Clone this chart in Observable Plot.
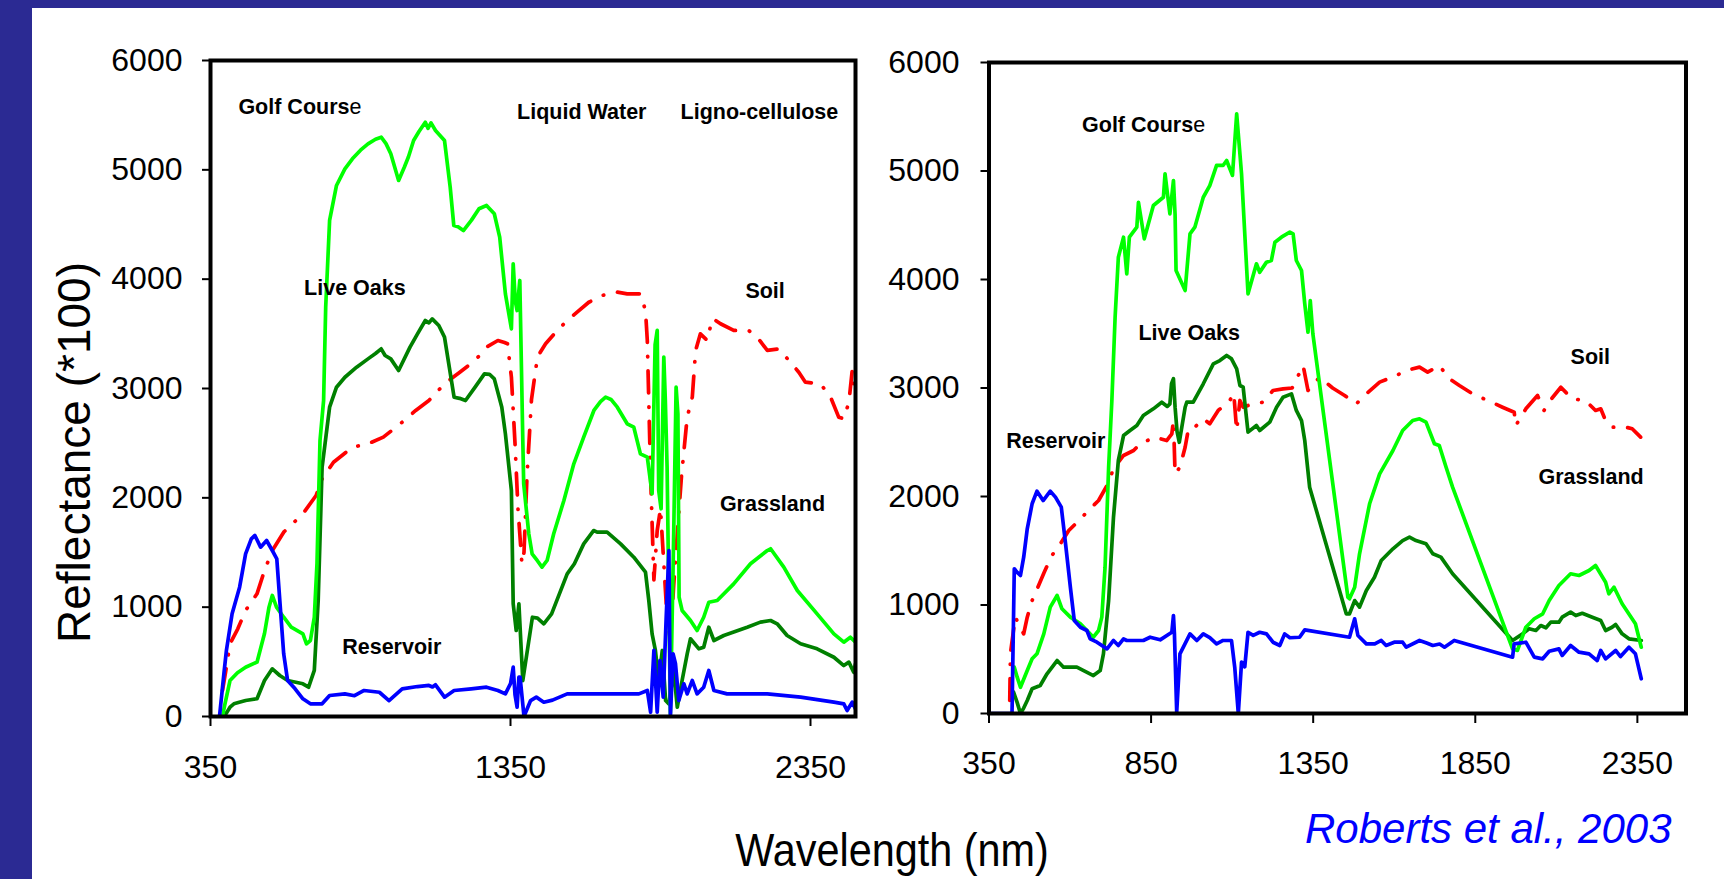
<!DOCTYPE html>
<html><head><meta charset="utf-8">
<script src="https://cdn.jsdelivr.net/npm/d3@7"></script>
<script src="https://cdn.jsdelivr.net/npm/@observablehq/plot@0.6"></script>
<style>
html,body{margin:0;padding:0;background:#fff;}
body{width:1724px;height:879px;position:relative;overflow:hidden;font-family:"Liberation Sans",Arial,sans-serif;color:#000;}
#bandTop{position:absolute;left:0;top:0;width:1724px;height:8px;background:#2B2A93;}
#bandLeft{position:absolute;left:0;top:0;width:32px;height:879px;background:#2B2A93;}
.chart{position:absolute;top:0;}
#overlay{position:absolute;left:0;top:0;}
</style>
</head><body>
<div id="bandTop"></div><div id="bandLeft"></div>
<div id="left" class="chart" style="left:0px"></div>
<div id="right" class="chart" style="left:870px"></div>
<svg id="overlay" width="1724" height="879"></svg>
<script>
// ---------- DATA (wavelength nm, reflectance *100) ----------
const yTicks = [0, 1000, 2000, 3000, 4000, 5000, 6000];
const xTicksLeft = [350, 1350, 2350];
const xTicksRight = [350, 850, 1350, 1850, 2350];

const leftGolfCourse = [[390,0],[397,100],[415,329],[440,400],[467,451],[505,497],[530,759],[545,1000],[556,1107],[570,1000],[594,908],[619,817],[658,756],[670,665],[683,695],[696,908],[705,1400],[715,2524],[727,2890],[734,3744],[747,4537],[770,4857],[798,5009],[823,5101],[850,5180],[875,5238],[900,5280],[919,5299],[935,5240],[951,5147],[977,4903],[996,5024],[1010,5120],[1027,5268],[1045,5350],[1066,5436],[1075,5380],[1085,5430],[1100,5360],[1130,5268],[1149,4841],[1161,4491],[1175,4480],[1193,4445],[1220,4540],[1245,4644],[1270,4674],[1296,4598],[1314,4384],[1333,3866],[1353,3546],[1359,4140],[1366,3800],[1372,3713],[1381,3988],[1391,2524],[1394,2128],[1411,1671],[1422,1488],[1439,1427],[1455,1366],[1472,1427],[1494,1671],[1528,1976],[1561,2311],[1594,2555],[1628,2799],[1650,2880],[1667,2921],[1685,2900],[1706,2829],[1739,2677],[1761,2646],[1783,2402],[1806,2372],[1822,2037],[1832,3400],[1839,3531],[1844,2067],[1852,1900],[1861,3287],[1866,2900],[1872,2280],[1883,24],[1894,1671],[1902,3012],[1908,2768],[1912,1091],[1922,970],[1950,878],[1972,787],[1994,908],[2011,1045],[2039,1061],[2094,1213],[2150,1397],[2206,1518],[2217,1534],[2261,1366],[2306,1152],[2372,939],[2428,756],[2461,680],[2483,725],[2500,680]];
const leftLiveOaks = [[395,0],[405,40],[415,85],[428,116],[467,146],[505,162],[530,329],[556,436],[581,375],[607,329],[658,299],[677,268],[696,421],[709,1061],[722,2280],[747,2829],[770,3012],[798,3103],[837,3195],[875,3271],[900,3320],[919,3363],[932,3302],[951,3271],[977,3165],[1015,3378],[1040,3500],[1066,3622],[1078,3600],[1089,3637],[1111,3576],[1130,3470],[1162,2920],[1180,2910],[1200,2890],[1232,3012],[1263,3134],[1280,3130],[1296,3088],[1321,2829],[1333,2585],[1353,2067],[1359,1031],[1369,787],[1378,1031],[1391,329],[1423,908],[1440,900],[1461,848],[1487,939],[1539,1305],[1563,1397],[1594,1579],[1627,1701],[1639,1686],[1672,1686],[1717,1579],[1761,1457],[1800,1320],[1811,1061],[1822,756],[1833,604],[1844,329],[1856,604],[1867,146],[1878,116],[1894,421],[1906,85],[1922,329],[1939,573],[1950,711],[1978,619],[1994,634],[2011,817],[2028,695],[2061,741],[2139,817],[2183,863],[2217,878],[2239,848],[2272,741],[2317,665],[2372,619],[2428,542],[2461,466],[2478,497],[2494,405],[2500,482]];
const leftReservoir = [[380,0],[395,400],[403,604],[422,939],[447,1183],[467,1488],[486,1625],[498,1656],[517,1549],[537,1610],[556,1518],[571,1442],[581,1061],[594,573],[607,329],[632,253],[658,162],[683,116],[722,116],[747,192],[798,207],[830,190],[862,238],[913,222],[945,146],[989,253],[1040,274],[1078,284],[1090,270],[1100,290],[1130,177],[1162,238],[1219,253],[1270,268],[1308,238],[1333,207],[1350,300],[1359,451],[1365,200],[1372,85],[1378,360],[1382,360],[1395,0],[1417,146],[1436,177],[1461,131],[1490,150],[1539,207],[1778,207],[1806,238],[1817,39],[1828,604],[1839,39],[1848,512],[1859,177],[1869,908],[1878,1518],[1883,0],[1892,573],[1900,482],[1911,146],[1928,299],[1939,207],[1956,329],[1972,207],[1994,268],[2011,421],[2028,238],[2072,207],[2206,207],[2317,177],[2428,131],[2461,116],[2472,55],[2489,131],[2500,70]];
const leftSoil = [[390,238],[400,400],[415,665],[441,802],[467,970],[505,1122],[530,1335],[556,1518],[594,1686],[658,1854],[702,2021],[722,2174],[760,2326],[823,2463],[875,2494],[926,2555],[989,2692],[1034,2799],[1078,2890],[1130,3043],[1181,3149],[1232,3256],[1270,3378],[1308,3439],[1330,3420],[1340,3409],[1353,3104],[1365,2500],[1375,1900],[1388,1400],[1395,1500],[1405,2200],[1420,2900],[1440,3290],[1467,3409],[1506,3531],[1539,3622],[1572,3698],[1611,3789],[1656,3851],[1706,3881],[1739,3866],[1783,3866],[1800,3713],[1806,3439],[1817,2200],[1828,1250],[1839,1700],[1850,1900],[1861,1400],[1872,900],[1883,695],[1894,1200],[1906,1671],[1920,2200],[1939,2738],[1956,2921],[1967,3348],[1983,3500],[2006,3439],[2022,3637],[2035,3620],[2050,3592],[2094,3531],[2144,3531],[2172,3470],[2206,3348],[2244,3363],[2283,3241],[2311,3149],[2333,3058],[2383,3043],[2417,2921],[2444,2738],[2461,2723],[2478,2875],[2489,3165],[2500,2951]];

const rightGolfCourse = [[428,427],[437,335],[447,242],[468,396],[483,504],[498,550],[519,734],[539,980],[560,1088],[575,965],[601,888],[632,827],[652,765],[672,703],[688,765],[698,888],[708,1348],[719,2270],[729,2885],[739,3652],[749,4205],[765,4390],[775,4052],[783,4390],[806,4482],[811,4712],[829,4375],[857,4682],[888,4758],[893,4974],[908,4605],[919,4912],[924,4600],[927,4083],[955,3899],[970,4421],[985,4482],[1011,4758],[1031,4866],[1052,5051],[1072,5051],[1083,5097],[1101,4959],[1114,5527],[1129,4974],[1149,3868],[1175,4145],[1185,4067],[1206,4160],[1221,4175],[1232,4344],[1252,4390],[1278,4436],[1288,4421],[1298,4175],[1314,4083],[1324,3776],[1334,3514],[1341,3806],[1349,3499],[1457,1072],[1462,1057],[1478,1164],[1493,1472],[1524,1933],[1555,2209],[1596,2424],[1626,2608],[1657,2700],[1678,2716],[1698,2685],[1724,2486],[1739,2470],[1760,2270],[1780,2086],[1965,596],[1980,581],[2006,795],[2032,873],[2058,919],[2078,1041],[2108,1180],[2144,1288],[2170,1272],[2201,1318],[2221,1364],[2252,1210],[2262,1103],[2278,1164],[2303,1011],[2344,827],[2362,611]];
const rightLiveOaks = [[426,196],[437,100],[447,0],[457,50],[468,120],[483,228],[508,258],[529,366],[560,488],[580,427],[621,427],[642,396],[672,350],[693,396],[703,550],[719,1041],[734,1809],[749,2332],[765,2562],[785,2608],[806,2654],[826,2746],[857,2808],[883,2869],[900,2830],[908,2854],[913,3039],[919,3085],[924,2823],[930,2600],[937,2500],[955,2823],[960,2869],[980,2869],[1011,3039],[1042,3223],[1062,3253],[1083,3300],[1098,3269],[1114,3177],[1124,3023],[1134,3007],[1149,2593],[1175,2654],[1185,2608],[1216,2685],[1237,2823],[1257,2915],[1283,2946],[1298,2793],[1314,2700],[1324,2516],[1339,2086],[1452,919],[1462,919],[1478,1041],[1493,980],[1514,1134],[1539,1256],[1560,1410],[1596,1518],[1626,1594],[1647,1625],[1667,1594],[1698,1564],[1719,1472],[1744,1441],[1780,1288],[1965,673],[1996,734],[2016,781],[2037,765],[2052,811],[2068,790],[2083,842],[2108,842],[2118,888],[2144,934],[2160,903],[2180,924],[2211,888],[2237,857],[2252,765],[2272,795],[2283,820],[2303,734],[2324,688],[2362,673]];
const rightReservoir = [[350,0],[421,0],[428,1334],[437,1300],[447,1272],[457,1441],[468,1702],[483,1933],[498,2049],[517,1963],[539,2049],[555,1994],[573,1902],[585,1594],[601,1164],[613,857],[632,795],[652,765],[662,688],[683,657],[714,596],[734,673],[749,627],[765,688],[775,673],[826,673],[847,703],[878,679],[914,749],[919,903],[922,734],[929,12],[939,550],[970,734],[991,673],[1011,734],[1031,700],[1052,642],[1072,673],[1098,673],[1108,427],[1119,0],[1129,473],[1139,430],[1149,749],[1165,720],[1185,749],[1206,734],[1226,657],[1247,627],[1262,734],[1278,698],[1308,703],[1324,771],[1462,703],[1478,873],[1488,719],[1514,642],[1540,642],[1560,673],[1575,627],[1600,657],[1626,657],[1637,611],[1678,673],[1700,650],[1719,627],[1740,640],[1755,611],[1785,673],[1965,519],[1970,642],[2006,657],[2032,519],[2058,504],[2078,574],[2108,596],[2118,535],[2144,627],[2170,565],[2201,550],[2226,488],[2237,581],[2252,504],[2283,581],[2298,525],[2324,611],[2344,550],[2362,320]];
const rightSoil = [[414,120],[416,550],[431,888],[457,734],[468,888],[483,1041],[503,1180],[520,1300],[544,1456],[570,1564],[596,1686],[632,1794],[662,1887],[688,1963],[714,2101],[734,2255],[765,2378],[796,2424],[816,2486],[862,2547],[898,2516],[914,2578],[919,2700],[924,2209],[939,2270],[955,2454],[965,2620],[980,2624],[1011,2716],[1031,2670],[1057,2793],[1093,2885],[1105,2950],[1114,2608],[1124,2885],[1134,2823],[1160,2850],[1195,2869],[1226,2977],[1257,2992],[1285,3000],[1319,3207],[1334,2977],[1370,3100],[1410,3000],[1447,2931],[1483,2854],[1514,2946],[1555,3054],[1606,3115],[1637,3161],[1678,3192],[1703,3146],[1739,3207],[1770,3085],[1801,3023],[1842,2946],[1888,2885],[1934,2823],[1970,2777],[1975,2654],[2006,2808],[2042,2931],[2062,2793],[2085,2900],[2114,3007],[2149,2900],[2190,2885],[2221,2793],[2237,2808],[2252,2700],[2272,2639],[2314,2639],[2334,2624],[2360,2547]];

const leftLabels = [
  {t:"Golf Course", nm:443, r:5575},
  {t:"Liquid Water", nm:1372, r:5529},
  {t:"Ligno-cellulose", nm:1917, r:5529},
  {t:"Live Oaks", nm:662, r:3915},
  {t:"Soil", nm:2133, r:3892},
  {t:"Grassland", nm:2048, r:1939},
  {t:"Reservoir", nm:789, r:636}
];
const rightLabels = [
  {t:"Golf Course", nm:637, r:5419},
  {t:"Live Oaks", nm:811, r:3502},
  {t:"Reservoir", nm:403, r:2512},
  {t:"Soil", nm:2144, r:3281},
  {t:"Grassland", nm:2045, r:2175}
];

// ---------- STYLES ----------
const colGolf = "#00FF00", colOak = "#008000", colRes = "#0000FF", colSoil = "#FF0000";
const FONT = "'Liberation Sans', Arial, sans-serif";

function chart(cfg) {
  const lineOpts = (col, extra) => Object.assign({x: d => d[0], y: d => d[1], stroke: col, strokeWidth: 3.7, strokeLinejoin: "round", clip: true}, extra || {});
  const p = Plot.plot({
    width: cfg.width, height: 800,
    marginLeft: cfg.ml, marginRight: cfg.mr, marginTop: cfg.mt, marginBottom: cfg.mb,
    style: {fontFamily: FONT, background: "transparent", overflow: "visible", color: "#000"},
    x: {domain: [350, 2500]},
    y: {domain: [0, 6000]},
    marks: [
      Plot.line(cfg.soil, lineOpts(colSoil, {strokeDasharray: "22,14,0.5,14", strokeLinecap: "round"})),
      Plot.line(cfg.oak, lineOpts(colOak)),
      Plot.line(cfg.golf, lineOpts(colGolf)),
      Plot.line(cfg.res, lineOpts(colRes)),
      Plot.text(cfg.labels, {x: "nm", y: "r", text: "t", textAnchor: "start", lineAnchor: "middle", fontWeight: "bold", fontSize: 21.5, fill: "#000"}),
      Plot.axisY(yTicks, {tickSize: 8, tickPadding: cfg.yPad, fontSize: 32, tickFormat: d => String(d), strokeWidth: 2, label: null}),
      Plot.axisX(cfg.xticks, {tickSize: 10, tickPadding: cfg.xPad, fontSize: 32, tickFormat: d => String(d), strokeWidth: 2, label: null}),
      Plot.frame({stroke: "#000", strokeWidth: 4, fill: "none"})
    ]
  });
  // last letter of "Golf Course" is regular weight in the original
  d3.select(p).selectAll("text").filter(function(){ return this.textContent === "Golf Course"; })
    .each(function(){ const s = d3.select(this); s.text("Golf Cours"); s.append("tspan").attr("font-weight", "normal").text("e"); });
  return p;
}

document.getElementById("left").appendChild(chart({
  width: 870, ml: 210, mr: 15, mt: 60, mb: 84, yPad: 20, xPad: 29,
  golf: leftGolfCourse, oak: leftLiveOaks, res: leftReservoir, soil: leftSoil,
  labels: leftLabels, xticks: xTicksLeft
}));
document.getElementById("right").appendChild(chart({
  width: 854, ml: 118.5, mr: 38.5, mt: 62, mb: 87, yPad: 21.5, xPad: 28,
  golf: rightGolfCourse, oak: rightLiveOaks, res: rightReservoir, soil: rightSoil,
  labels: rightLabels, xticks: xTicksRight
}));

// ---------- shared titles ----------
const ov = d3.select("#overlay").style("font-family", FONT);
ov.append("text").attr("transform", "translate(90,452.5) rotate(-90)")
  .attr("text-anchor", "middle").attr("font-size", 46).attr("fill", "#000").text("Reflectance (*100)");
ov.append("text").attr("transform", "translate(892,866) scale(0.9,1)")
  .attr("text-anchor", "middle").attr("font-size", 46).attr("fill", "#000").text("Wavelength (nm)");
ov.append("text").attr("x", 1305).attr("y", 843)
  .attr("font-size", 42).attr("font-style", "italic").attr("fill", "#0000FF").text("Roberts et al., 2003");
</script>
</body></html>
